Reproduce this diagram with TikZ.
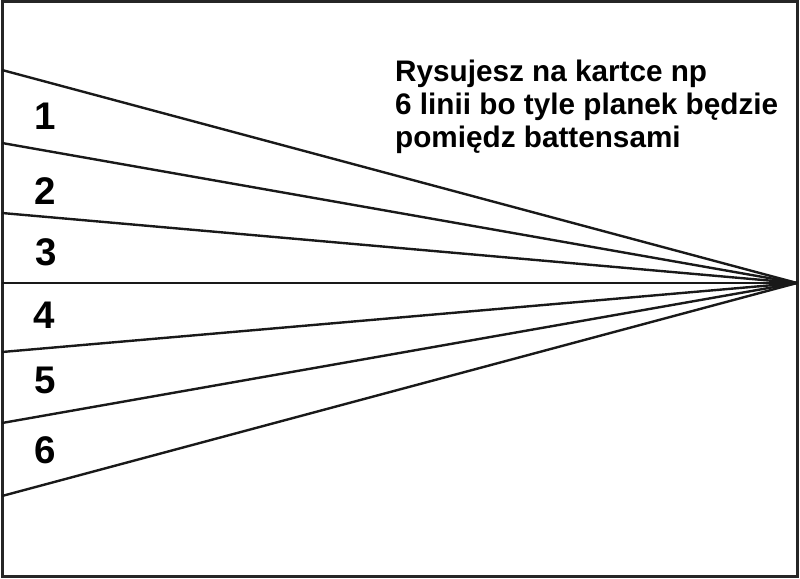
\documentclass[tikz,border=0pt]{standalone}
\usepackage{fontspec}
\setmainfont{Liberation Sans}
\begin{document}
\begin{tikzpicture}[x=1pt,y=-1pt,
  ray/.style={line width=2.4pt, draw=black!90},
  frame/.style={line width=3pt, draw=black!85},
  num/.style={inner sep=0pt, font=\fontsize{38.5}{38.5}\selectfont\bfseries},
  note/.style={inner sep=0pt, align=left, font=\fontsize{29.7}{33}\selectfont\bfseries}]
\useasboundingbox (0,0) rectangle (800,578);
\draw[frame] (2,1.5) rectangle (797.5,576);
\coordinate (P) at (797,283);
\coordinate (L0) at (2,70);
\coordinate (L1) at (2,143);
\coordinate (L2) at (2,213);
\coordinate (L3) at (2,283);
\coordinate (L4) at (2,352);
\coordinate (L5) at (2,423);
\coordinate (L6) at (2,496);
\foreach \i in {0,...,6} \draw[ray] (L\i) -- (P);
\node[num] (n1) at (45,116) {1};
\node[num] (n2) at (45,191) {2};
\node[num] (n3) at (46,252) {3};
\node[num] (n4) at (44,315) {4};
\node[num] (n5) at (45,380) {5};
\node[num] (n6) at (45,450) {6};
\node[note, anchor=north west] (txt) at (395,59.5) {Rysujesz na kartce np\\6 linii bo tyle planek będzie\\pomiędz battensami};
\end{tikzpicture}
\end{document}
